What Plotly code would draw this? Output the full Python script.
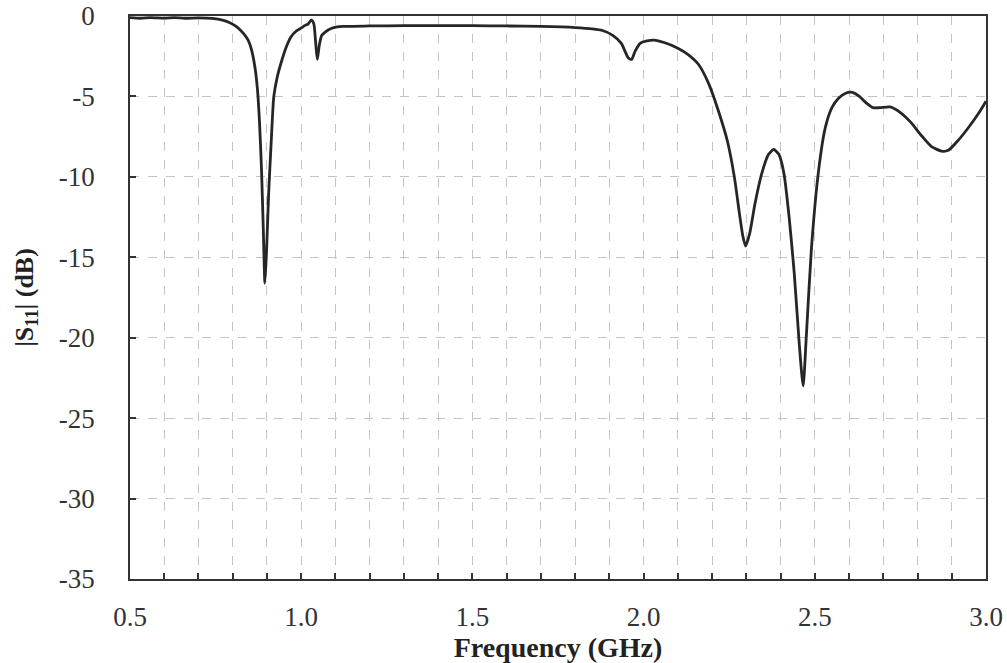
import plotly.graph_objects as go

freq_ghz = [0.50, 0.53, 0.56, 0.60, 0.63, 0.66, 0.70, 0.74, 0.77, 0.79, 0.81, 0.83, 0.845,
            0.855, 0.865, 0.872, 0.878, 0.884, 0.889, 0.894, 0.899, 0.905, 0.912, 0.92,
            0.93, 0.94, 0.955, 0.97, 0.985, 1.0, 1.01, 1.02, 1.03, 1.037, 1.042, 1.047,
            1.053, 1.06, 1.07, 1.08, 1.095, 1.12, 1.2, 1.3, 1.4, 1.5, 1.6, 1.7, 1.8,
            1.85, 1.88, 1.91, 1.935, 1.955, 1.965, 1.975, 1.99, 2.01, 2.03, 2.06, 2.10,
            2.13, 2.16, 2.19, 2.22, 2.245, 2.265, 2.28, 2.29, 2.298, 2.31, 2.325, 2.345,
            2.365, 2.38, 2.395, 2.41, 2.425, 2.44, 2.455, 2.466, 2.475, 2.49, 2.51, 2.53,
            2.55, 2.57, 2.59, 2.61, 2.63, 2.65, 2.67, 2.69, 2.72, 2.75, 2.78, 2.81, 2.84,
            2.87, 2.89, 2.92, 2.95, 2.98, 3.0]
s11_db = [-0.10, -0.14, -0.10, -0.13, -0.10, -0.14, -0.12, -0.15, -0.25, -0.40, -0.65, -1.05, -1.5,
          -2.1, -3.2, -4.5, -6.5, -9.5, -13.0, -16.6, -14.5, -11.0, -8.0, -5.0,
          -3.8, -3.0, -2.0, -1.3, -0.95, -0.75, -0.6, -0.5, -0.25, -0.5, -1.6, -2.7,
          -1.8, -1.2, -1.0, -0.85, -0.72, -0.65, -0.62, -0.6, -0.6, -0.6, -0.62, -0.65, -0.72,
          -0.8, -0.9, -1.2, -1.7, -2.6, -2.7, -2.2, -1.7, -1.55, -1.5, -1.65, -2.0,
          -2.4, -3.0, -4.2, -6.0, -7.8, -10.0, -12.3, -13.7, -14.3, -13.5, -11.7, -9.8,
          -8.6, -8.3, -8.6, -9.8, -12.5, -16.0, -20.5, -23.0, -20.0, -14.5, -9.8, -7.0,
          -5.7, -5.1, -4.8, -4.75, -5.0, -5.4, -5.7, -5.7, -5.65, -6.0, -6.6, -7.4, -8.1,
          -8.4, -8.35, -7.7, -6.9, -6.0, -5.3]

x_tick_vals = [0.5, 1.0, 1.5, 2.0, 2.5, 3.0]
x_tick_text = ["0.5", "1.0", "1.5", "2.0", "2.5", "3.0"]
y_tick_vals = [0, -5, -10, -15, -20, -25, -30, -35]
y_tick_text = ["0", "-5", "-10", "-15", "-20", "-25", "-30", "-35"]

FONT = "Liberation Serif, Times New Roman, serif"

fig = go.Figure()
fig.add_trace(go.Scatter(x=freq_ghz, y=s11_db, mode="lines",
                         line=dict(color="#262626", width=2.8, shape="spline", smoothing=0.6),
                         showlegend=False, hoverinfo="skip"))

fig.update_layout(
    width=1007, height=663,
    margin=dict(l=130, r=21, t=16, b=84),
    paper_bgcolor="white", plot_bgcolor="white",
    font=dict(family=FONT, color="#333333", size=27),
)
fig.update_xaxes(
    range=[0.5, 3.0], tickvals=x_tick_vals, ticktext=x_tick_text, automargin=False,
    tickfont=dict(family=FONT, size=27, color="#333333"),
    ticks="inside", ticklen=6, tickwidth=1.5, tickcolor="#333333",
    showline=True, linecolor="#333333", linewidth=1.6, mirror=True,
    showgrid=True, gridcolor="#c4c4c4", gridwidth=1, griddash="dash",
    minor=dict(dtick=0.1, tick0=0.5, ticks="inside", ticklen=6, tickwidth=1.5,
               tickcolor="#333333", showgrid=True, gridcolor="#c4c4c4",
               griddash="dash", gridwidth=1),
    zeroline=False, ticklabelstandoff=13,
    title=dict(text="<b>Frequency (GHz)</b>", font=dict(family=FONT, size=28, color="#222222"), standoff=0),
)
fig.update_yaxes(
    range=[-35, 0], tickvals=y_tick_vals, ticktext=y_tick_text, automargin=False,
    tickfont=dict(family=FONT, size=27, color="#333333"),
    ticks="inside", ticklen=6, tickwidth=1.5, tickcolor="#333333",
    showline=True, linecolor="#333333", linewidth=1.6, mirror=True,
    showgrid=True, gridcolor="#c4c4c4", gridwidth=1, griddash="dash",
    zeroline=False, ticklabelstandoff=28,
    title=dict(text="<b>|S<sub>11</sub>| (dB)</b>", font=dict(family=FONT, size=26, color="#222222"), standoff=18),
)

fig.write_html("out.html")
